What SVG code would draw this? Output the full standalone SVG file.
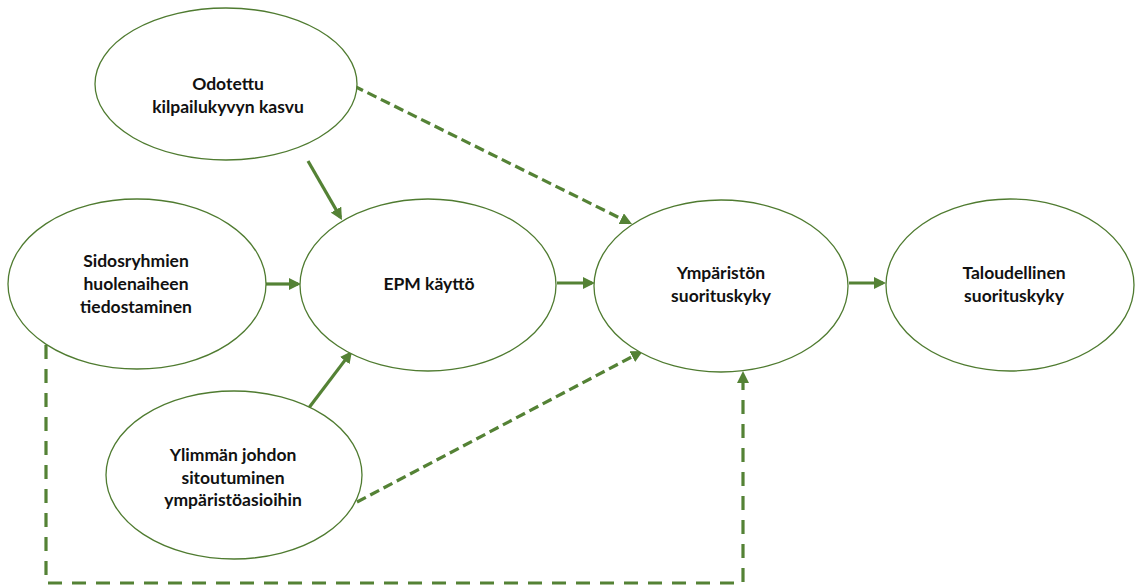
<svg xmlns="http://www.w3.org/2000/svg" width="1135" height="587" viewBox="0 0 1135 587">
  <style>
    .node ellipse { fill: #ffffff; stroke: #4f7b30; stroke-width: 1.3; }
    .node text { font-family: Lato, "Liberation Sans", sans-serif; font-weight: bold; font-size: 17.5px; fill: #111111; text-anchor: middle; }
    .conn { fill: none; stroke: #548235; stroke-width: 3.2; }
    .dash { stroke-dasharray: 10 5; }
    .longdash { stroke-dasharray: 14 10; }
  </style>
  <defs>
    <marker id="arrow" markerUnits="userSpaceOnUse" markerWidth="12" markerHeight="12" refX="9" refY="6" orient="auto">
      <path d="M0,0 L12,6 L0,12 z" fill="#548235"/>
    </marker>
  </defs>

  <!-- connectors -->
  <g id="connectors">
    <line class="conn" x1="308" y1="161" x2="340.5" y2="217.4" marker-end="url(#arrow)"/>
    <line class="conn dash" x1="354" y1="86" x2="629.3" y2="222.7" marker-end="url(#arrow)"/>
    <line class="conn" x1="266" y1="284" x2="298" y2="284" marker-end="url(#arrow)"/>
    <line class="conn" x1="557" y1="283" x2="592" y2="283" marker-end="url(#arrow)"/>
    <line class="conn" x1="849" y1="283" x2="883" y2="283" marker-end="url(#arrow)"/>
    <line class="conn" x1="308" y1="409" x2="350.2" y2="353.4" marker-end="url(#arrow)"/>
    <line class="conn dash" x1="357" y1="502" x2="640.3" y2="352.4" marker-end="url(#arrow)"/>
    <polyline class="conn longdash" points="46,345 46,583 743,583 743,374" marker-end="url(#arrow)"/>
  </g>

  <g id="node-odotettu" class="node">
    <ellipse cx="226" cy="84" rx="131" ry="76"/>
    <text x="228" y="90">Odotettu</text>
    <text x="228" y="113">kilpailukyvyn kasvu</text>
  </g>

  <g id="node-sidosryhmat" class="node">
    <ellipse cx="137" cy="284" rx="129" ry="85"/>
    <text x="136" y="267">Sidosryhmien</text>
    <text x="136" y="290">huolenaiheen</text>
    <text x="136" y="313">tiedostaminen</text>
  </g>

  <g id="node-epm" class="node">
    <ellipse cx="428" cy="285" rx="128" ry="86"/>
    <text x="429" y="290">EPM käyttö</text>
  </g>

  <g id="node-ymparisto" class="node">
    <ellipse cx="721" cy="286" rx="127" ry="86"/>
    <text x="721" y="279">Ympäristön</text>
    <text x="721" y="302">suorituskyky</text>
  </g>

  <g id="node-talous" class="node">
    <ellipse cx="1010" cy="285" rx="124" ry="86"/>
    <text x="1014" y="279">Taloudellinen</text>
    <text x="1014" y="302">suorituskyky</text>
  </g>

  <g id="node-johto" class="node">
    <ellipse cx="234" cy="475" rx="128" ry="84"/>
    <text x="233" y="461">Ylimmän johdon</text>
    <text x="233" y="484">sitoutuminen</text>
    <text x="233" y="506">ympäristöasioihin</text>
  </g>
</svg>
